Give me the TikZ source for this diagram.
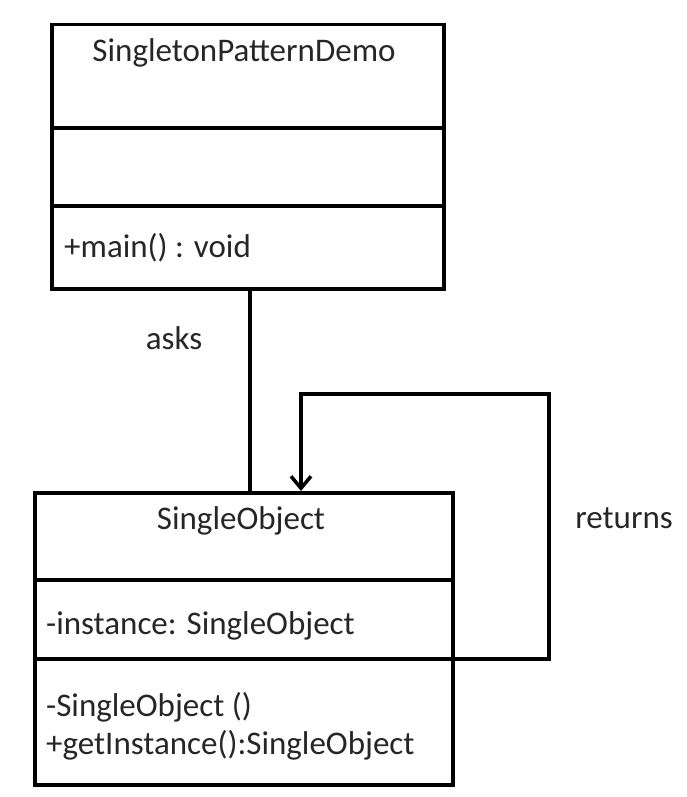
\documentclass[tikz,border=0pt]{standalone}
\usepackage{fontspec}
\setmainfont{Carlito}
\usetikzlibrary{arrows.meta}
\begin{document}
\begin{tikzpicture}[x=1pt,y=-1pt,
  box/.style={draw=black,line width=3.5pt,anchor=north west,inner sep=0pt},
  divline/.style={draw=black,line width=3.5pt},
  conn/.style={draw=black,line width=3.5pt},
  lbl/.style={text=black!85,font=\fontsize{33}{40}\selectfont,inner sep=0pt},
  member/.style={lbl,anchor=west}]
\useasboundingbox (0,0) rectangle (687,797);
% top class
\node[box,minimum width=392pt,minimum height=264pt] (demo) at (50,23) {};
\draw[divline] (demo.west |- 0,128) -- (demo.east |- 0,128);
\draw[divline] (demo.west |- 0,206) -- (demo.east |- 0,206);
\node[lbl] (demoname) at (244,53) {SingletonPatternDemo};
\node[member] (demomain) at (64,248) {+main() : void};
% bottom class
\node[box,minimum width=418pt,minimum height=292pt] (obj) at (33,491) {};
\draw[divline] (obj.west |- 0,580) -- (obj.east |- 0,580);
\draw[divline] (obj.west |- 0,659) -- (obj.east |- 0,659);
\node[lbl] (objname) at (241,521) {SingleObject};
\node[member] (objattr) at (46,626) {-instance: SingleObject};
\node[member] (objctor) at (46,707) {-SingleObject ()};
\node[member] (objget) at (46,745) {+getInstance():SingleObject};
% connectors
\draw[conn] (demo.south -| 250,0) -- (obj.north -| 250,0);
\node[lbl] (asks) at (174,338) {asks};
\coordinate (r1) at (549,659);
\coordinate (r2) at (549,394);
\coordinate (r3) at (301,394);
\draw[conn,line width=4pt,-{Straight Barb[length=12pt,width=20pt,line width=3.5pt]}] (obj.east |- r1) -- (r1) -- (r2) -- (r3) -- (obj.north -| r3);
\node[lbl] (returns) at (624,518) {returns};
\end{tikzpicture}
\end{document}
